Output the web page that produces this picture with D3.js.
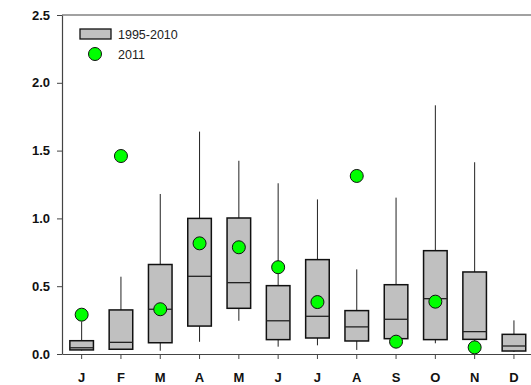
<!DOCTYPE html>
<html>
<head>
<meta charset="utf-8">
<script src="https://cdn.jsdelivr.net/npm/d3@7"></script>
<style>
  body { margin: 0; background: #fff; }
  svg { display: block; font-family: "Liberation Sans", Arial, sans-serif; }
</style>
</head>
<body>
<script>
// monthly box stats 1995-2010 and the 2011 value
const months = ["J", "F", "M", "A", "M", "J", "J", "A", "S", "O", "N", "D"];
const whiskerLow = [0.025, 0.03, 0.024, 0.09, 0.245, 0.054, 0.064, 0.03, 0.09, 0.079, 0.09, 0.015];
const q1 =         [0.03, 0.035, 0.083, 0.206, 0.337, 0.106, 0.118, 0.096, 0.113, 0.106, 0.108, 0.022];
const median =     [0.046, 0.086, 0.33, 0.573, 0.526, 0.245, 0.278, 0.2, 0.256, 0.408, 0.165, 0.059];
const q3 =         [0.098, 0.325, 0.66, 1.0, 1.003, 0.504, 0.696, 0.32, 0.511, 0.762, 0.605, 0.145];
const whiskerHigh = [0.24, 0.57, 1.18, 1.64, 1.425, 1.259, 1.14, 0.624, 1.153, 1.834, 1.414, 0.248];
const value2011 =  [0.29, 1.46, 0.33, 0.816, 0.787, 0.64, 0.383, 1.313, 0.091, 0.386, 0.049, null];
const yTicks = [0, 0.5, 1.0, 1.5, 2.0, 2.5];

const chartWidth = 531, chartHeight = 385;
const plotLeft = 62, plotTop = 15, plotBottom = 354, plotRight = 533.6;

const svg = d3.select("body").append("svg")
    .attr("width", chartWidth)
    .attr("height", chartHeight);

const idx = d3.range(months.length);
const x = d3.scaleBand().domain(idx).range([plotLeft, plotRight]).paddingInner(0.4).paddingOuter(0.2);
const y = d3.scaleLinear().domain([0, 2.5]).range([plotBottom, plotTop]);

// Y axis
const yAxis = svg.append("g")
    .attr("transform", "translate(" + plotLeft + ",0)")
    .call(d3.axisLeft(y).tickValues(yTicks).tickFormat(d3.format(".1f")).tickSize(5).tickSizeOuter(0));
yAxis.select(".domain").attr("stroke", "#444").attr("stroke-width", 1.2);
yAxis.selectAll(".tick line").attr("stroke", "#444");
yAxis.selectAll("text")
    .attr("x", -12)
    .style("font-size", "13px")
    .style("font-weight", "bold")
    .attr("fill", "#111");

// X axis
const xAxis = svg.append("g")
    .attr("transform", "translate(0," + plotBottom + ")")
    .call(d3.axisBottom(x).tickFormat(function(i) { return months[i]; }).tickSize(5).tickSizeOuter(0));
xAxis.select(".domain").attr("stroke", "#444").attr("stroke-width", 1.2);
xAxis.selectAll(".tick line").attr("stroke", "#444");
xAxis.selectAll("text")
    .attr("y", 19)
    .style("font-size", "13px")
    .style("font-weight", "bold")
    .attr("fill", "#111");

// top frame line
svg.append("line")
    .attr("x1", plotLeft).attr("x2", chartWidth)
    .attr("y1", y(2.5)).attr("y2", y(2.5))
    .attr("stroke", "#444").attr("stroke-width", 1.2);

const bw = x.bandwidth();
const cx = function(i) { return x(i) + bw / 2; };

// whiskers
svg.selectAll(".whisker")
    .data(idx)
    .enter().append("line")
    .attr("class", "whisker")
    .attr("x1", cx).attr("x2", cx)
    .attr("y1", function(i) { return y(whiskerLow[i]); })
    .attr("y2", function(i) { return y(whiskerHigh[i]); })
    .attr("stroke", "#222").attr("stroke-width", 1);

// boxes
svg.selectAll(".box")
    .data(idx)
    .enter().append("rect")
    .attr("class", "box")
    .attr("x", function(i) { return x(i); })
    .attr("width", bw)
    .attr("y", function(i) { return y(q3[i]); })
    .attr("height", function(i) { return y(q1[i]) - y(q3[i]); })
    .attr("fill", "#c0c0c0")
    .attr("stroke", "#111").attr("stroke-width", 1.5);

svg.selectAll(".median")
    .data(idx)
    .enter().append("line")
    .attr("class", "median")
    .attr("x1", function(i) { return x(i); })
    .attr("x2", function(i) { return x(i) + bw; })
    .attr("y1", function(i) { return y(median[i]); })
    .attr("y2", function(i) { return y(median[i]); })
    .attr("stroke", "#222").attr("stroke-width", 1.3);

// 2011 points
svg.selectAll(".dot")
    .data(idx.filter(function(i) { return value2011[i] != null; }))
    .enter().append("circle")
    .attr("class", "dot")
    .attr("cx", cx)
    .attr("cy", function(i) { return y(value2011[i]); })
    .attr("r", 6.5)
    .attr("fill", "#00ff00")
    .attr("stroke", "#111").attr("stroke-width", 1);

// legend
const legend = svg.append("g");
legend.append("rect")
    .attr("x", 80).attr("y", 29).attr("width", 31).attr("height", 10)
    .attr("fill", "#c0c0c0").attr("stroke", "#111").attr("stroke-width", 1.3);
legend.append("text")
    .attr("x", 118).attr("y", 38.5)
    .style("font-size", "12.5px").attr("fill", "#222")
    .text("1995-2010");
legend.append("circle")
    .attr("cx", 95).attr("cy", 54).attr("r", 6.5)
    .attr("fill", "#00ff00").attr("stroke", "#111").attr("stroke-width", 1);
legend.append("text")
    .attr("x", 118).attr("y", 58.5)
    .style("font-size", "12.5px").attr("fill", "#222")
    .text("2011");
</script>
</body>
</html>
